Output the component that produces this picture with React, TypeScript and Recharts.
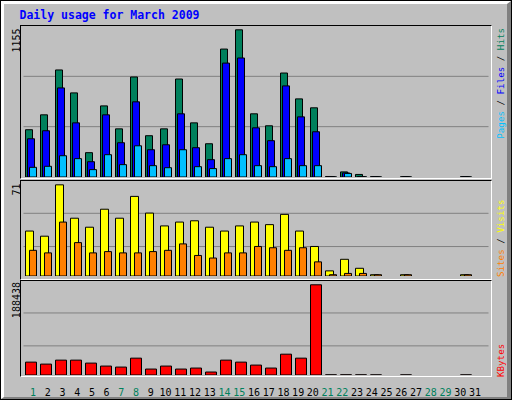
import { BarChart, Bar, XAxis, YAxis, CartesianGrid } from 'recharts';

// day of month, March 2009
const days = ['1', '2', '3', '4', '5', '6', '7', '8', '9', '10', '11', '12', '13', '14', '15', '16',
  '17', '18', '19', '20', '21', '22', '23', '24', '25', '26', '27', '28', '29', '30', '31'];
// weekend days get the green tick label
const weekendDays = ['1', '7', '8', '14', '15', '21', '22', '28', '29'];

const hits = [371, 488, 840, 660, 191, 558, 378, 785, 324, 378, 769, 425, 261, 1004, 1155, 496,
  402, 816, 613, 543, 4, 40, 20, 3, null, 2, null, null, null, 3, null];
const files = [300, 363, 699, 425, 120, 488, 269, 590, 214, 253, 496, 230, 136, 894, 934, 386,
  285, 715, 472, 355, 2, 32, 3, 1, null, 1, null, null, null, 1, null];
const pages = [76, 84, 167, 144, 58, 175, 97, 245, 89, 73, 214, 81, 66, 144, 175, 89,
  81, 144, 89, 89, 1, 28, 2, 1, null, 1, null, null, null, 1, null];
const visits = [35, 31, 71, 45, 38, 52, 45, 62, 49, 39, 42, 43, 38, 35, 39, 42,
  40, 48, 35, 23, 4, 13, 6, 1, null, 1, null, null, null, 1, null];
const sites = [20, 18, 42, 26, 18, 19, 18, 18, 19, 20, 25, 16, 14, 18, 18, 23,
  22, 20, 22, 11, 1, 2, 2, 1, null, 1, null, null, null, 1, null];
const kbytes = [26920, 22780, 31060, 31060, 24850, 18640, 16570, 35200, 12420, 18640, 12420, 14500,
  6210, 31060, 26920, 20710, 14500, 43490, 35200, 188438, 300, 400, 300, 200, null, 200, null, null,
  null, 200, null];

const BG = '#C0C0C0';
const GRID = '#808080';
const C_HITS = '#00805C';
const C_FILES = '#0000FF';
const C_PAGES = '#00C0FF';
const C_VISITS = '#FFFF00';
const C_SITES = '#FF8000';
const C_KBYTES = '#FF0000';
const MONO = '"DejaVu Sans Mono", monospace';

// plot area spans x 23.5 .. 488.5 => 31 slots of 15px
const MARGIN = { top: 0, right: 23.5, bottom: 0, left: 23.5 };

const data = days.map((day, i) => ({
  day,
  hits: hits[i],
  files: files[i],
  pages: pages[i],
  visits: visits[i],
  sites: sites[i],
  kbytes: kbytes[i],
}));

const maxOf = (arr: (number | null)[]) => Math.max(...arr.map((v) => v ?? 0));
const maxHits = maxOf(hits);
const maxVisits = maxOf(visits);
const maxKb = maxOf(kbytes);

// a little headroom above the tallest bar, like webalizer
const top1 = maxHits * 1.026;
const top2 = maxVisits * 1.042;
const top3 = maxKb * 1.042;

function Panel({ top, height }: { top: number; height: number }) {
  return (
    <div
      style={{
        position: 'absolute',
        left: 20,
        top,
        width: 472,
        height,
        boxSizing: 'border-box',
        borderTop: '1px solid #000',
        borderLeft: '1px solid #000',
        borderBottom: '1px solid #fff',
        borderRight: '1px solid #fff',
      }}
    />
  );
}

function DayTick(props: any) {
  const { x, y, payload } = props;
  const weekend = weekendDays.includes(payload.value);
  return (
    <text
      x={x}
      y={y - 9.5}
      textAnchor="middle"
      fill={weekend ? C_HITS : '#000'}
      fontFamily={MONO}
      fontSize={10}
    >
      {payload.value}
    </text>
  );
}

export default function App() {
  return (
    <div style={{ position: 'absolute', left: 0, top: 0, width: 512, height: 400, background: BG, overflow: 'hidden' }}>
      {/* outer bevel */}
      <div style={{ position: 'absolute', left: 0, top: 0, width: 512, height: 400, boxSizing: 'border-box', border: '1px solid #000' }}>
        <div
          style={{
            position: 'absolute',
            inset: 0,
            borderTop: '3px solid #fff',
            borderLeft: '3px solid #fff',
            borderRight: '4px solid #808080',
            borderBottom: '2px solid #808080',
          }}
        />
      </div>

      <Panel top={25} height={154} />
      <Panel top={180} height={100} />
      <Panel top={280} height={97} />

      {/* hits / files / pages */}
      <div style={{ position: 'absolute', left: 0, top: 26 }}>
        <BarChart width={512} height={151} data={data} margin={MARGIN} barGap={-5}>
          <CartesianGrid vertical={false} stroke={GRID} horizontalValues={[top1 / 3, (top1 * 2) / 3]} />
          <XAxis dataKey="day" hide />
          <YAxis hide domain={[0, top1]} allowDataOverflow />
          <Bar dataKey="hits" fill={C_HITS} stroke="#000" barSize={7} isAnimationActive={false} />
          <Bar dataKey="files" fill={C_FILES} stroke="#000" barSize={7} isAnimationActive={false} />
          <Bar dataKey="pages" fill={C_PAGES} stroke="#000" barSize={7} isAnimationActive={false} />
        </BarChart>
      </div>

      {/* visits / sites */}
      <div style={{ position: 'absolute', left: 0, top: 181 }}>
        <BarChart width={512} height={95} data={data} margin={MARGIN} barGap={-4}>
          <CartesianGrid vertical={false} stroke={GRID} horizontalValues={[top2 * 0.31, top2 * 0.66]} />
          <XAxis dataKey="day" hide />
          <YAxis hide domain={[0, top2]} allowDataOverflow />
          <Bar dataKey="visits" fill={C_VISITS} stroke="#000" barSize={8} isAnimationActive={false} />
          <Bar dataKey="sites" fill={C_SITES} stroke="#000" barSize={7} isAnimationActive={false} />
        </BarChart>
      </div>

      {/* kbytes + day labels */}
      <div style={{ position: 'absolute', left: 0, top: 281 }}>
        <BarChart width={512} height={119} data={data} margin={MARGIN}>
          <CartesianGrid xAxisId="bars" vertical={false} stroke={GRID} horizontalValues={[top3 * 0.31, top3 * 0.66]} />
          <XAxis xAxisId="bars" dataKey="day" hide />
          <XAxis
            xAxisId="days"
            dataKey="day"
            height={25}
            interval={0}
            axisLine={false}
            tickLine={false}
            tickSize={0}
            tickMargin={0}
            padding={{ left: 2.1, right: 6.2 }}
            tick={(p: any) => <DayTick {...p} />}
          />
          <YAxis hide domain={[0, top3]} allowDataOverflow />
          <Bar xAxisId="bars" dataKey="kbytes" fill={C_KBYTES} stroke="#000" barSize={11} isAnimationActive={false} />
        </BarChart>
      </div>

      <svg width={512} height={400} style={{ position: 'absolute', left: 0, top: 0, pointerEvents: 'none' }}>
        <text x={19.5} y={19} fill="#0000FF" fontFamily={MONO} fontWeight="bold" fontSize={11.5}>
          Daily usage for March 2009
        </text>

        {/* max values, left side */}
        <text transform="translate(19.5,28.5) rotate(-90)" textAnchor="end" fontFamily={MONO} fontSize={10} fill="#000">
          {maxHits}
        </text>
        <text transform="translate(19.5,183.5) rotate(-90)" textAnchor="end" fontFamily={MONO} fontSize={10} fill="#000">
          {maxVisits}
        </text>
        <text transform="translate(19.5,282) rotate(-90)" textAnchor="end" fontFamily={MONO} fontSize={10} fill="#000">
          {maxKb}
        </text>

        {/* series names, right side */}
        <text transform="translate(503.5,28) rotate(-90)" textAnchor="end" fontFamily={MONO} fontSize={9.2}>
          <tspan fill={C_PAGES}>Pages</tspan>
          <tspan fill="#000"> / </tspan>
          <tspan fill={C_FILES}>Files</tspan>
          <tspan fill="#000"> / </tspan>
          <tspan fill={C_HITS}>Hits</tspan>
        </text>
        <text transform="translate(503.5,277) rotate(-90)" textAnchor="start" fontFamily={MONO} fontSize={9.2}>
          <tspan fill={C_SITES}>Sites</tspan>
          <tspan fill="#000"> / </tspan>
          <tspan fill={C_VISITS}>Visits</tspan>
        </text>
        <text transform="translate(503.5,377) rotate(-90)" textAnchor="start" fontFamily={MONO} fontSize={9.2} fill={C_KBYTES}>
          KBytes
        </text>
      </svg>
    </div>
  );
}
